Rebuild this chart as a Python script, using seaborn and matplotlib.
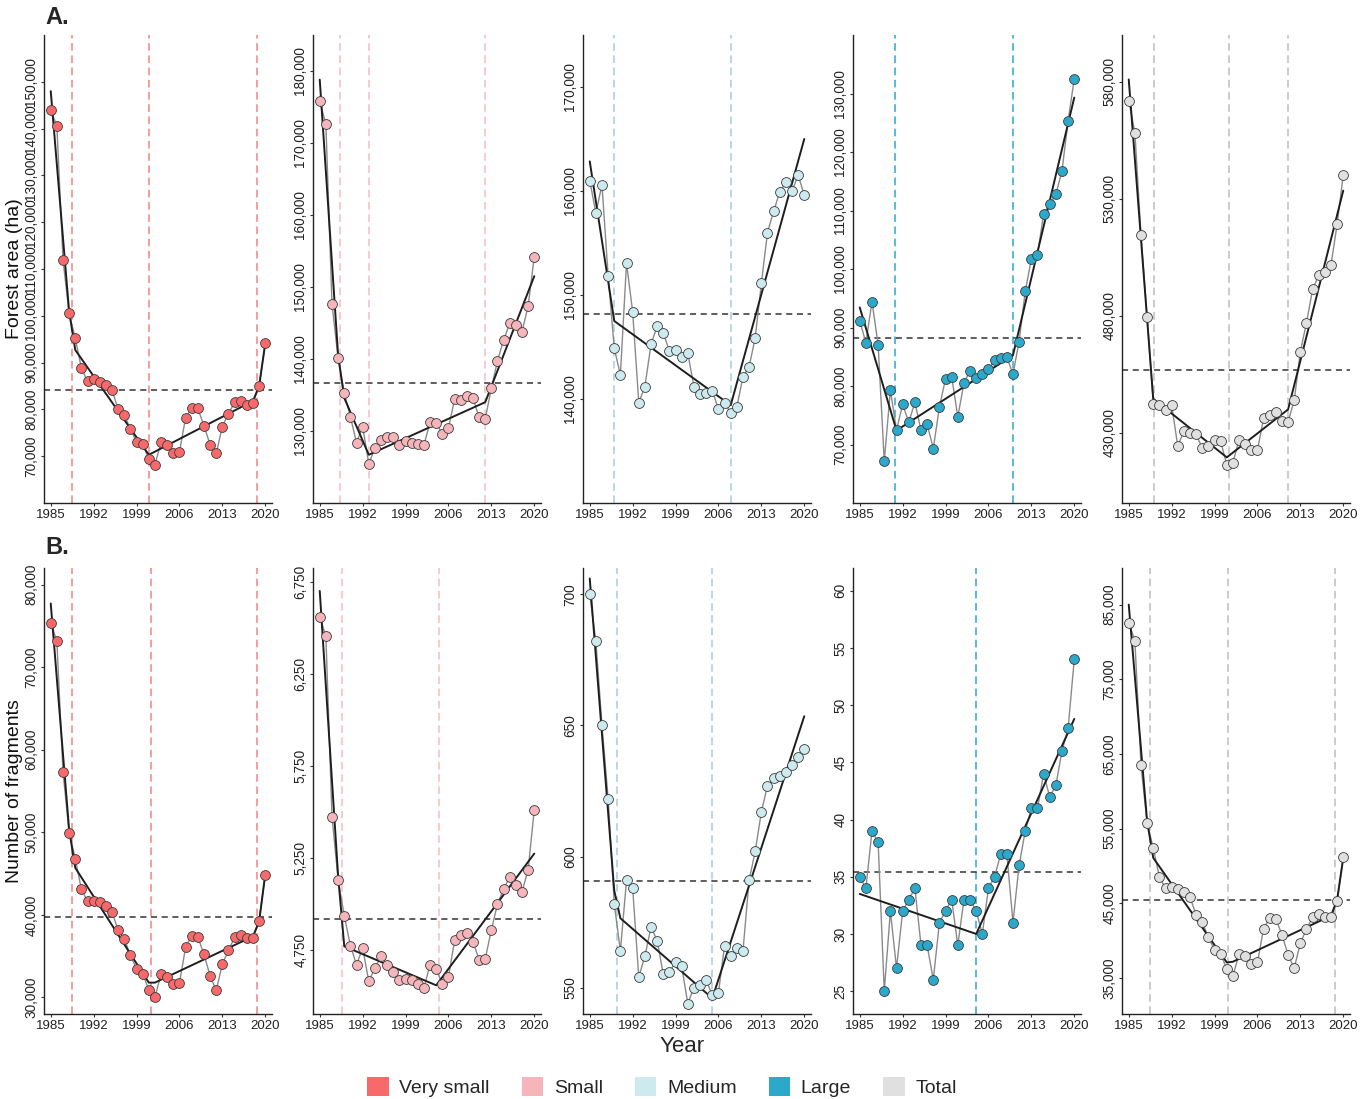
import numpy as np
import pandas as pd
import matplotlib
matplotlib.use("Agg")
import matplotlib.pyplot as plt
import seaborn as sns
from matplotlib.patches import Patch

# ------------------------------------------------------------
# Datos (1985-2020)
# ------------------------------------------------------------
years = list(range(1985, 2021))
year_ticks = [1985, 1992, 1999, 2006, 2013, 2020]

categories = ["Very small", "Small", "Medium", "Large", "Total"]
fill_colors = ["#F8696B", "#F5B5BA", "#CDEAEE", "#2BA8CA", "#E0E0E0"]
break_colors = ["#F28484", "#F7BCC2", "#A9CCD6", "#2BA8CA", "#BDBDBD"]

# --- A. Forest area (ha) ---
area_very_small = [144000, 140500, 112000, 100500, 95200, 88800, 86000, 86500, 85800, 85300,
                   84100, 80000, 78800, 75800, 73000, 72700, 69300, 68200, 73000, 72300,
                   70700, 70900, 78200, 80300, 80200, 76500, 72500, 70600, 76300, 79100,
                   81500, 81800, 80900, 81400, 85100, 94100]
area_small = [175800, 172600, 147600, 140100, 135300, 131950, 128400, 130600, 125450, 127630,
              128700, 129200, 129200, 128000, 128560, 128380, 128140, 128050, 131250, 131100,
              129630, 130400, 134400, 134270, 134830, 134600, 131900, 131670, 135940, 139750,
              142630, 144950, 144720, 143800, 147360, 154190]
area_medium = [161000, 157900, 160580, 151860, 144870, 142340, 153050, 148400, 139650, 141200,
               145260, 147020, 146380, 144590, 144680, 144040, 144400, 141200, 140460, 140560,
               140800, 139000, 139620, 138650, 139230, 142150, 143100, 145900, 151120, 156000,
               158050, 159900, 160830, 159970, 161540, 159590]
area_large = [91140, 87430, 94400, 87090, 67140, 79260, 72460, 76860, 73830, 77200,
              72400, 73490, 69310, 76400, 81260, 81600, 74740, 80460, 82630, 81430,
              82060, 82860, 84400, 84740, 84970, 82000, 87600, 96170, 101710, 102460,
              109370, 111090, 112740, 116800, 125370, 132510]
area_total = [572000, 558290, 514430, 479290, 442140, 441710, 439570, 441860, 424290, 430710,
              429860, 429290, 423430, 424290, 427000, 426290, 416290, 417290, 427000, 425290,
              422710, 422710, 436140, 437570, 438860, 434860, 434710, 443860, 464710, 477000,
              491290, 497290, 498860, 501710, 519140, 540290]

# --- B. Number of fragments ---
frag_very_small = [75385, 73120, 57330, 49960, 46800, 43080, 41660, 41740, 41580, 41130,
                   40360, 38140, 37130, 35100, 33480, 32870, 30930, 30000, 32870, 32430,
                   31620, 31740, 36070, 37490, 37330, 35220, 32630, 30850, 34050, 35710,
                   37290, 37610, 37210, 37250, 39310, 44860]
frag_small = [6561, 6455, 5473, 5129, 4935, 4772, 4668, 4759, 4578, 4649,
              4714, 4667, 4627, 4587, 4589, 4587, 4563, 4543, 4668, 4645,
              4563, 4600, 4801, 4828, 4841, 4793, 4696, 4699, 4857, 4998,
              5080, 5145, 5100, 5063, 5185, 5509]
frag_medium = [700, 682, 650, 622.1, 582.1, 564, 591, 588.1, 554.1, 562.1,
               573.1, 568, 555.1, 556, 559.9, 558.2, 544, 550, 551, 552.9,
               547.1, 548.1, 566.1, 562.1, 565.1, 564, 591, 602, 617, 627,
               630.1, 630.8, 632.1, 635, 638.1, 641]
frag_large = [35, 34, 39, 38, 25, 32, 27, 32, 33, 34,
              29, 29, 26, 31, 32, 33, 29, 33, 33, 32,
              30, 34, 35, 37, 37, 31, 36, 39, 41, 41,
              44, 42, 43, 46, 48, 54]
frag_total = [82545, 80180, 63480, 55760, 52410, 48530, 47050, 47140, 46920, 46560,
              45800, 43480, 42460, 40450, 38790, 38210, 36250, 35310, 38210, 37900,
              36920, 37100, 41610, 43040, 42950, 40800, 38120, 36340, 39690, 41560,
              43130, 43570, 43170, 43130, 45270, 51160]

# Ajuste segmentado (nodos)
fit_area_years = [[1985, 1988, 1989, 2001, 2018, 2019, 2020],
                  [1985, 1988, 1989, 1993, 2012, 2020],
                  [1985, 1989, 2008, 2020],
                  [1985, 1991, 2010, 2020],
                  [1985, 1989, 2001, 2011, 2020]]
fit_area_vals = [[148000, 100900, 92700, 70300, 81800, 85000, 94100],
                 [178800, 140500, 134600, 126700, 134000, 151500],
                 [162850, 147500, 139400, 165000],
                 [93430, 72400, 85260, 129300],
                 [581000, 444500, 419500, 440000, 533500]]
fit_frag_years = [[1985, 1988, 1989, 2001, 2002, 2018, 2019, 2020],
                  [1985, 1988, 1989, 2004, 2020],
                  [1985, 1989, 1990, 2005, 2020],
                  [1985, 2004, 2020],
                  [1985, 1988, 1989, 2001, 2002, 2018, 2019, 2020]]
fit_frag_vals = [[77700, 50300, 45700, 31800, 31800, 37400, 39200, 44900],
                 [6700, 5150, 4768, 4556, 5272],
                 [706, 587, 576.5, 546, 653.5],
                 [33.5, 30.0, 48.8],
                 [85000, 56000, 51100, 37100, 37200, 43350, 45500, 51100]]

# Puntos de quiebre (lineas verticales)
bp_area = [[1988.4, 2001.0, 2018.6], [1988.3, 1993.0, 2012.0], [1989.0, 2008.1],
           [1990.8, 2010.0], [1989.1, 2001.3, 2011.0]]
bp_frag = [[1988.4, 2001.3, 2018.6], [1988.7, 2004.5], [1989.4, 2005.0],
           [2004.0], [1988.4, 2001.2, 2018.6]]

# Limites y ticks del eje Y
ylim_area = [(60000, 160000), (120000, 185000), (130000, 175000), (60000, 140000), (400000, 600000)]
yticks_area = [list(range(70000, 150001, 10000)), list(range(130000, 180001, 10000)),
               [140000, 150000, 160000, 170000], list(range(70000, 130001, 10000)),
               [430000, 480000, 530000, 580000]]
ylim_frag = [(28000, 82000), (4400, 6825), (540, 710), (23, 62), (30200, 89900)]
yticks_frag = [list(range(30000, 80001, 10000)), [4750, 5250, 5750, 6250, 6750],
               [550, 600, 650, 700], [25, 30, 35, 40, 45, 50, 55, 60],
               list(range(35000, 85001, 10000))]

# ------------------------------------------------------------
# Estilo
# ------------------------------------------------------------
sns.set_theme(style="white")
plt.rcParams['font.family'] = ['Liberation Sans', 'DejaVu Sans']

W, H = 1369, 1099
fig = plt.figure(figsize=(W / 100, H / 100), dpi=100)

col_left = [44, 313, 583, 853, 1122]
ax_w = 228
rows = [
    dict(top=35, bottom=503, data=[area_very_small, area_small, area_medium, area_large, area_total],
         fx=fit_area_years, fy=fit_area_vals, bps=bp_area, ylims=ylim_area, yticks=yticks_area,
         ylabel="Forest area (ha)"),
    dict(top=568, bottom=1014, data=[frag_very_small, frag_small, frag_medium, frag_large, frag_total],
         fx=fit_frag_years, fy=fit_frag_vals, bps=bp_frag, ylims=ylim_frag, yticks=yticks_frag,
         ylabel="Number of fragments"),
]

for r, row in enumerate(rows):
    for c in range(5):
        ax = fig.add_axes([col_left[c] / W, 1 - row["bottom"] / H, ax_w / W,
                           (row["bottom"] - row["top"]) / H])
        vals = row["data"][c]
        df = pd.DataFrame({"year": years, "value": vals})

        # breakpoints
        for bp in row["bps"][c]:
            ax.axvline(bp, color=break_colors[c], ls=(0, (5, 3)), lw=1.1, zorder=1)
        # media
        ax.axhline(np.mean(vals), color="#333333", ls=(0, (4, 3)), lw=1.1, zorder=1)

        sns.lineplot(data=df, x="year", y="value", color="#8a8a8a", lw=1.0, ax=ax, zorder=2)
        sns.lineplot(x=row["fx"][c], y=row["fy"][c], color="#1e1e1e", lw=1.4, ax=ax, zorder=3)
        sns.scatterplot(data=df, x="year", y="value", color=fill_colors[c], s=50,
                        edgecolor="#3a3a3a", linewidth=0.6, ax=ax, zorder=4)

        ax.set_xlim(1983.9, 2021.1)
        ax.set_ylim(*row["ylims"][c])
        ax.set_xticks(year_ticks)
        ax.set_xticklabels([str(y) for y in year_ticks], fontsize=9.5, color="#222222")
        yt = row["yticks"][c]
        ax.set_yticks(yt)
        ax.set_yticklabels([f"{v:,}" for v in yt], fontsize=9.8, color="#222222",
                           rotation=90, va="center")
        ax.tick_params(axis="both", length=2.5, width=0.8, color="#333333", pad=1.5,
                       bottom=True, left=True)
        sns.despine(ax=ax)
        for sp in ["left", "bottom"]:
            ax.spines[sp].set_color("#222222")
            ax.spines[sp].set_linewidth(1.0)
        ax.set_xlabel("")
        if c == 0:
            ax.set_ylabel(row["ylabel"], fontsize=14, color="#111111")
            ax.yaxis.set_label_coords(-0.092, 0.5)
        else:
            ax.set_ylabel("")

fig.text(45 / W, 1 - 18 / H, "A.", fontsize=17, fontweight="bold", va="center", ha="left")
fig.text(45 / W, 1 - 548 / H, "B.", fontsize=17, fontweight="bold", va="center", ha="left")
fig.text(682 / W, 1 - 1046 / H, "Year", fontsize=16, ha="center", va="center")

handles = [Patch(facecolor=col, edgecolor="none") for col in fill_colors]
fig.legend(handles, categories, loc="center", bbox_to_anchor=(662 / W, 1 - 1087 / H),
           ncol=5, frameon=False, fontsize=14, handlelength=1.1, handleheight=1.1,
           columnspacing=1.65, handletextpad=0.55)

fig.savefig("out.png", dpi=100)
